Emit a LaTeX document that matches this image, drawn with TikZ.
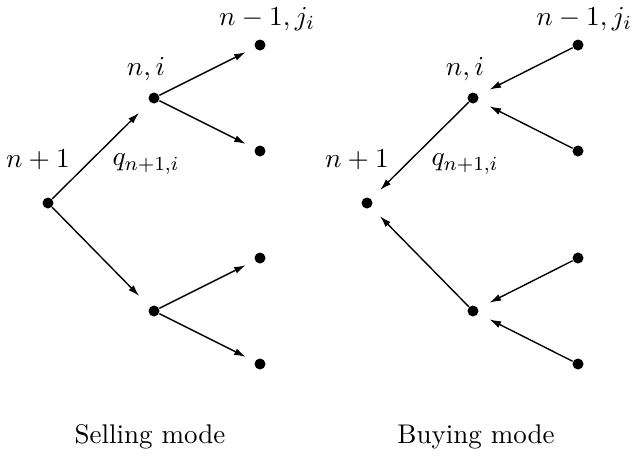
\documentclass[tikz,border=0pt]{standalone}
\usetikzlibrary{arrows.meta}
\begin{document}
\begin{tikzpicture}[x=0.4pt,y=-0.4pt,
  font=\fontsize{10.8}{13}\selectfont,
  dot/.style={circle,fill=black,inner sep=0pt,minimum size=4.4pt},
  lbl/.style={inner sep=0pt},
  arr/.style={line width=0.55pt,-{Latex[length=4.6pt,width=2.8pt]}},
]
\useasboundingbox (0,0) rectangle (634,455);
% Selling mode tree
\node[dot] (r) at (48,203) {};
\node[dot] (a) at (154,98) {};
\node[dot] (b) at (154,311) {};
\node[dot] (a1) at (260,45) {};
\node[dot] (a2) at (260,151) {};
\node[dot] (b1) at (260,258) {};
\node[dot] (b2) at (260,364) {};
\draw[arr,shorten >=6pt] (r) -- (a);
\draw[arr,shorten >=6pt] (r) -- (b);
\draw[arr,shorten >=4pt] (a) -- (a1);
\draw[arr,shorten >=4pt] (a) -- (a2);
\draw[arr,shorten >=4pt] (b) -- (b1);
\draw[arr,shorten >=4pt] (b) -- (b2);
\node[lbl] (lr) at (38,160) {$n+1$};
\node[lbl] (la) at (146,69) {$n,i$};
\node[lbl] (la1) at (267,19) {$n-1,j_i$};
\node[lbl] (lq) at (146,164) {$q_{n+1,i}$};
\node[lbl,anchor=base] (ls) at (150,443) {Selling mode};
% Buying mode tree
\node[dot] (R) at (367,203) {};
\node[dot] (A) at (473,98) {};
\node[dot] (B) at (473,311) {};
\node[dot] (A1) at (578,45) {};
\node[dot] (A2) at (578,151) {};
\node[dot] (B1) at (578,258) {};
\node[dot] (B2) at (578,364) {};
\draw[arr,shorten >=5pt] (A) -- (R);
\draw[arr,shorten >=5pt] (B) -- (R);
\draw[arr,shorten >=5pt] (A1) -- (A);
\draw[arr,shorten >=5pt] (A2) -- (A);
\draw[arr,shorten >=5pt] (B1) -- (B);
\draw[arr,shorten >=5pt] (B2) -- (B);
\node[lbl] (LR) at (357,160) {$n+1$};
\node[lbl] (LA) at (465,69) {$n,i$};
\node[lbl] (LA1) at (584,19) {$n-1,j_i$};
\node[lbl] (LQ) at (465,164) {$q_{n+1,i}$};
\node[lbl,anchor=base] (LS) at (476,443) {Buying mode};
\end{tikzpicture}
\end{document}
